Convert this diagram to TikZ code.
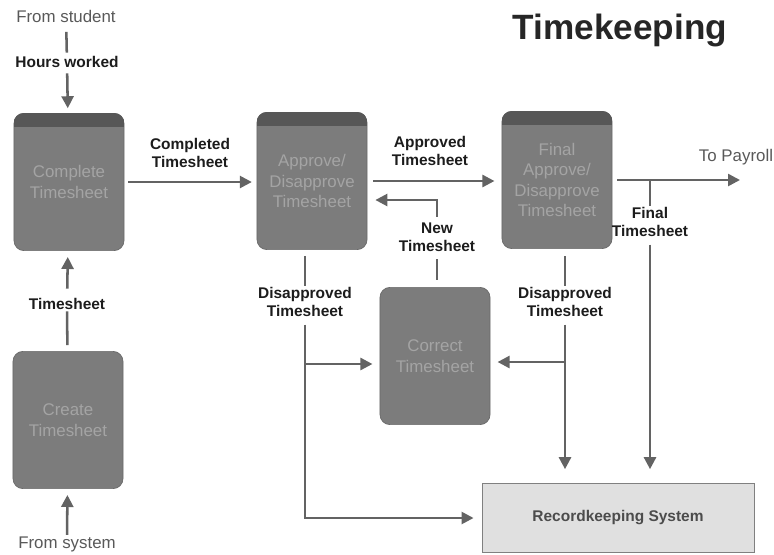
\documentclass[tikz,border=0pt]{standalone}
\usepackage{fontspec}
\setmainfont{Liberation Sans}
\usetikzlibrary{arrows.meta, positioning}
\definecolor{boxgray}{HTML}{7C7C7C}
\definecolor{bandgray}{HTML}{575757}
\definecolor{boxtext}{HTML}{A4A4A4}
\definecolor{linegray}{HTML}{636363}
\definecolor{recgray}{HTML}{E0E0E0}
\definecolor{labtext}{HTML}{1C1C1C}
\tikzset{
  procbox/.style={fill=boxgray, draw=boxgray!85!black, line width=0.5pt,
    rounded corners=0.25cm, minimum width=2.75cm,
    minimum height=3.43cm, align=center, text=boxtext,
    font=\fontsize{12}{14.5}\selectfont},
  recbox/.style={fill=recgray, draw=gray, line width=0.6pt, minimum width=6.8cm,
    minimum height=1.72cm, text=black!70, font=\fontsize{11}{13}\selectfont\bfseries},
  lab/.style={align=center, inner sep=1pt, text=labtext,
    font=\fontsize{11}{13}\selectfont\bfseries},
  plainlab/.style={inner sep=1pt, text=black!65, font=\fontsize{12}{14}\selectfont},
  flow/.style={draw=linegray, line width=1.8pt},
  flowto/.style={flow, -{Triangle[length=0.3cm, width=0.3cm]}, color=linegray}
}
\begin{document}
\begin{tikzpicture}[x=0.025cm, y=-0.025cm]
\useasboundingbox (0,0) rectangle (774,554);
%% title
\node[font=\fontsize{25}{30}\selectfont\bfseries, text=black!85] (title) at (620,30) {Timekeeping};
%% process boxes
\node[procbox] (comp) at (69,182) {Complete\\Timesheet};
\node[procbox] (appr) at (312,181) {Approve/\\Disapprove\\Timesheet};
\node[procbox] (fin) at (557,180) {Final\\Approve/\\Disapprove\\Timesheet};
\node[procbox] (corr) at (435,356) {Correct\\Timesheet};
\node[procbox] (create) at (68,420) {Create\\Timesheet};
\node[recbox] (rec) at (618,518) {Recordkeeping System};
%% dark bands on top
\foreach \b in {comp, appr, fin} {
  \begin{scope}
    \clip[rounded corners=0.25cm] (\b.north west) rectangle (\b.south east);
    \fill[bandgray] (\b.north west) rectangle ([yshift=-0.35cm]\b.north east);
  \end{scope}
}
%% labels
\node[plainlab] (fromstu) at (66,16) {From student};
\node[lab] (hours) at (67,62) {Hours worked};
\node[lab] (compl) at (190,153) {Completed\\Timesheet};
\node[lab] (apprl) at (430,151) {Approved\\Timesheet};
\node[plainlab] (payl) at (736,157) {To Payroll};
\node[lab] (finl) at (650,222) {Final\\Timesheet};
\node[lab] (newl) at (437,237) {New\\Timesheet};
\node[lab] (dis1) at (305,302) {Disapproved\\Timesheet};
\node[lab] (dis2) at (565,302) {Disapproved\\Timesheet};
\node[lab] (tsl) at (67,304) {Timesheet};
\node[plainlab] (fromsys) at (67,544) {From system};
\coordinate (payend) at (740,180);
\coordinate (tick) at (650,180);
\coordinate (j1) at (305,364);
\coordinate (j2) at (565,362);
\coordinate (j3) at (437,200);
%% left column
\draw[flow, shorten <=0.2cm, shorten >=0.05cm] (fromstu) -- (hours);
\draw[flowto, shorten <=0.1cm, shorten >=0.12cm] (hours) -- (comp);
\draw[flow, shorten <=0.15cm] (create) -- (tsl);
\draw[flowto, shorten <=0.2cm, shorten >=0.15cm] (tsl) -- (comp);
\draw[flowto, shorten >=0.15cm] (fromsys) -- (create);
%% main row
\draw[flowto, shorten <=0.1cm, shorten >=0.12cm] (comp) -- (comp -| appr.west);
\draw[flowto, shorten <=0.15cm, shorten >=0.18cm] (appr) -- (appr -| fin.west);
\draw[flowto, shorten <=0.12cm] (fin) -- (payend);
\draw[flow] (tick) -- (finl);
\draw[flowto, shorten <=0.15cm, shorten >=0.35cm] (finl) -- (finl |- rec.north);
%% disapproved paths
\draw[flow, shorten <=0.15cm] (appr.south -| dis1) -- (dis1);
\draw[flowto, shorten <=0.15cm, shorten >=0.2cm] (dis1) |- (rec);
\draw[flowto, shorten >=0.18cm] (j1) -- (j1 -| corr.west);
\draw[flow, shorten <=0.18cm] (fin.south -| dis2) -- (dis2);
\draw[flowto, shorten <=0.15cm, shorten >=0.35cm] (dis2) -- (dis2 |- rec.north);
\draw[flowto, shorten >=0.18cm] (j2) -- (j2 -| corr.east);
%% corrected sheet back
\draw[flow, shorten <=0.18cm, shorten >=0.15cm] (corr.north -| newl) -- (newl);
\draw[flowto, shorten <=0.1cm, shorten >=0.2cm] (newl) -- (j3) -- (j3 -| appr.east);
\end{tikzpicture}
\end{document}
